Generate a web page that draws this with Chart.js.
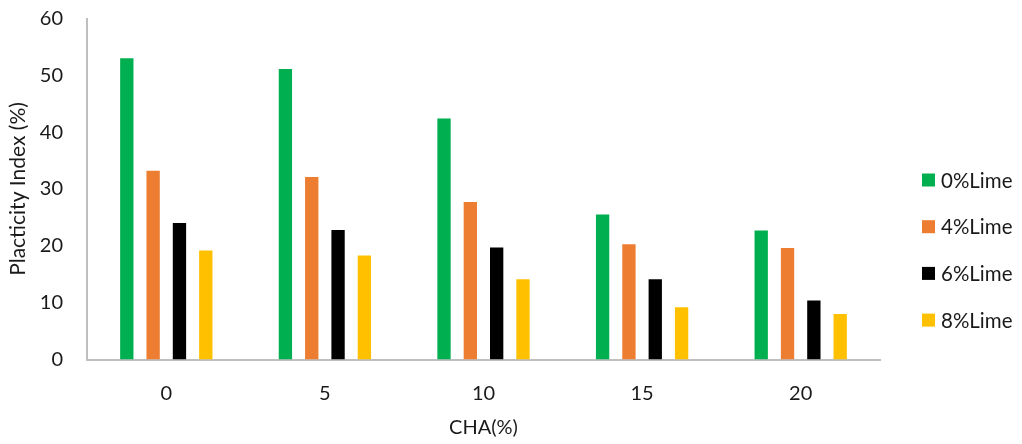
<!DOCTYPE html>
<html>
<head>
<meta charset="utf-8">
<script src="https://cdn.jsdelivr.net/npm/chart.js@4.4.1/dist/chart.umd.min.js"></script>
<style>
  html, body { margin: 0; padding: 0; background: #ffffff; }
  #wrap { width: 1022px; height: 444px; position: relative; }
</style>
</head>
<body>
<div id="wrap"><canvas id="chart" width="1022" height="444"></canvas></div>
<script>
// Plasticity index by CHA content for each lime dosage
const categories = ['0', '5', '10', '15', '20'];
const seriesNames = ['0%Lime', '4%Lime', '6%Lime', '8%Lime'];
const lime0 = [53.0, 51.1, 42.4, 25.5, 22.7];
const lime4 = [33.2, 32.1, 27.7, 20.3, 19.6];
const lime6 = [24.0, 22.8, 19.7, 14.1, 10.4];
const lime8 = [19.2, 18.3, 14.1, 9.2, 8.0];
const yTicks = [0, 10, 20, 30, 40, 50, 60];

const colors = ['#00b050', '#ed7d31', '#000000', '#ffc000'];
const FONT = 'Lato, "Open Sans", sans-serif';
const TEXT = '#1a1a1a';
const AXIS = '#bfbfbf';

// Legend drawn on the right as a vertical list of square swatches
const sideLegend = {
  id: 'sideLegend',
  afterDraw(chart) {
    const ctx = chart.ctx;
    ctx.save();
    ctx.font = '20.5px ' + FONT;
    ctx.textBaseline = 'middle';
    ctx.textAlign = 'left';
    const x = 922, y0 = 180, step = 46.7, box = 13;
    chart.data.datasets.forEach((ds, i) => {
      const cy = y0 + i * step;
      ctx.fillStyle = ds.backgroundColor;
      ctx.fillRect(x, cy - box / 2, box, box);
      ctx.fillStyle = TEXT;
      ctx.fillText(ds.label, x + 19, cy + 1);
    });
    ctx.restore();
  }
};

const values = [lime0, lime4, lime6, lime8];

new Chart(document.getElementById('chart'), {
  type: 'bar',
  data: {
    labels: categories,
    datasets: seriesNames.map((name, i) => ({
      label: name,
      data: values[i],
      backgroundColor: colors[i],
      borderWidth: 0,
      categoryPercentage: 0.664,
      barPercentage: 0.506
    }))
  },
  options: {
    responsive: false,
    animation: false,
    devicePixelRatio: 1,
    layout: { padding: { top: 18.5, right: 142, bottom: 0, left: 0 } },
    plugins: {
      legend: { display: false },
      tooltip: { enabled: false }
    },
    scales: {
      x: {
        grid: { display: false, drawTicks: false },
        border: { display: true, color: AXIS, width: 2 },
        ticks: { color: TEXT, font: { family: FONT, size: 20 }, padding: 22 },
        title: {
          display: true, text: 'CHA(%)', color: TEXT,
          font: { family: FONT, size: 20 }, padding: { top: 6, bottom: 4 }
        },
        afterFit(scale) { scale.height = 84.5; }
      },
      y: {
        min: 0, max: 60,
        afterBuildTicks(scale) { scale.ticks = yTicks.map(v => ({ value: v })); },
        grid: { display: false, drawTicks: false },
        border: { display: true, color: AXIS, width: 2 },
        ticks: { color: TEXT, font: { family: FONT, size: 20 }, padding: 24 },
        title: {
          display: true, text: 'Placticity Index (%)', color: TEXT,
          font: { family: FONT, size: 21 }, padding: { top: 6, bottom: 0 }
        },
        afterFit(scale) {
          scale.width = 87;
          scale.paddingTop = 0;
          scale.paddingBottom = 0;
        }
      }
    }
  },
  plugins: [sideLegend]
});
</script>
</body>
</html>
